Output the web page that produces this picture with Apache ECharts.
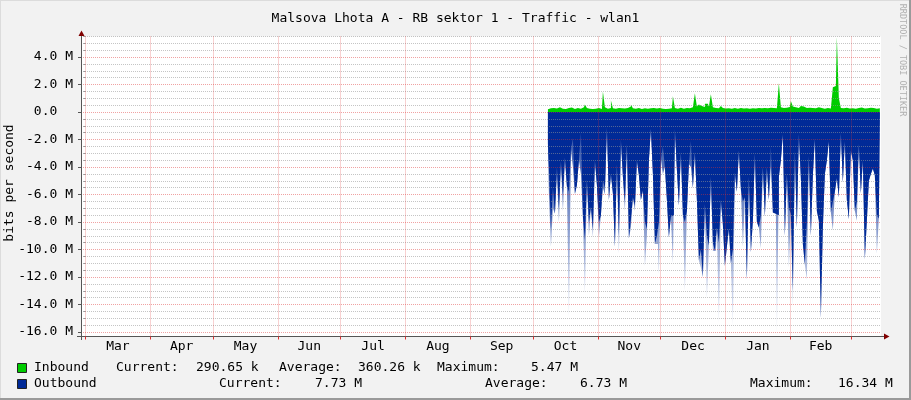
<!DOCTYPE html>
<html>
<head>
<meta charset="utf-8">
<script src="https://cdn.jsdelivr.net/npm/echarts@6/dist/echarts.min.js"></script>
<style>
html,body{margin:0;padding:0;background:#f2f2f2;}
#c{width:911px;height:400px;}
</style>
</head>
<body>
<div id="c"></div>
<script>
// ---------------- data ----------------
const titleText = 'Malsova Lhota A - RB sektor 1 - Traffic - wlan1';
const yAxisTitle = 'bits per second';
const watermark = 'RRDTOOL / TOBI OETIKER';

const monthNames = ['Mar','Apr','May','Jun','Jul','Aug','Sep','Oct','Nov','Dec','Jan','Feb'];
// days since 1 March (Feb has 29 days)
const monthStarts = [0,31,61,92,122,153,184,214,245,275,306,337,366];

// y axis (M bits/s)
const yMajorTicks = [-16,-14,-12,-10,-8,-6,-4,-2,0,2,4];
const yMin = -16.32, yMax = 5.5;

// x range in days since 1 March
const axisMinDay = -2.15, axisMaxDay = 380.35;
const dataStartDay = 221.1, dataStepDays = 0.956;

// Inbound (M bits/s)
const inbound = [
0.20,0.28,0.22,0.30,0.26,0.40,0.35,0.24,0.28,0.22,
0.30,0.25,0.33,0.22,0.27,0.30,0.24,0.28,0.35,0.55,
0.30,0.25,0.22,0.28,0.24,0.30,0.26,0.22,1.50,0.35,
0.25,0.30,0.85,0.28,0.24,0.30,0.22,0.28,0.26,0.35,
0.30,0.40,0.55,0.28,0.24,0.30,0.26,0.22,0.28,0.30,
0.24,0.28,0.22,0.30,0.26,0.35,0.30,0.24,0.28,0.22,
0.25,0.30,0.28,1.15,0.30,0.25,0.32,0.28,0.24,0.30,
0.40,0.28,0.35,0.45,1.37,0.40,0.55,0.45,0.38,0.60,
0.60,0.40,1.30,0.35,0.30,0.28,0.32,0.45,0.30,0.26,
0.28,0.32,0.25,0.30,0.28,0.24,0.30,0.33,0.26,0.28,
0.30,0.25,0.28,0.32,0.26,0.30,0.24,0.28,0.30,0.26,
0.28,0.32,0.25,0.30,0.28,0.40,2.10,0.35,0.30,0.32,
0.45,0.38,0.80,0.40,0.35,0.30,0.32,0.45,0.40,0.30,
0.28,0.32,0.30,0.26,0.28,0.35,0.40,0.30,0.25,0.28,
0.30,0.26,0.40,1.80,1.90,5.47,1.00,0.30,0.28,0.32,
0.30,0.26,0.28,0.32,0.25,0.30,0.28,0.33,0.26,0.30,
0.28,0.32,0.26,0.30,0.25,0.28,0.29
];

// Outbound depth (M bits/s), furthest (faded) extent
const outboundTip = [
2.3,6.0,9.8,7.0,7.4,4.5,8.0,3.6,7.2,3.3,
5.5,15.0,2.7,4.0,6.0,5.3,3.5,4.5,7.7,13.2,
4.9,9.0,6.9,9.1,3.5,5.3,9.1,7.5,5.5,6.0,
1.1,6.4,4.5,6.0,9.8,3.8,10.3,2.0,4.7,7.2,
2.3,9.2,8.4,6.2,7.2,3.5,4.6,6.4,5.7,11.2,
9.0,3.5,1.2,4.5,9.6,
9.6,11.8,3.4,4.5,4.0,6.4,9.1,7.6,11.0,1.2,
4.2,6.8,2.9,7.5,13.0,7.2,3.8,4.0,5.5,2.9,
6.4,10.8,11.3,12.0,6.7,13.5,9.7,4.7,10.1,10.1,
8.4,15.4,6.4,8.2,11.2,9.8,8.5,11.0,15.6,4.4,
5.8,2.8,5.6,9.8,6.2,12.2,4.7,10.2,7.9,3.0,
8.0,8.4,9.9,4.0,7.6,4.0,6.4,
4.0,7.3,7.4,16.3,4.7,3.5,1.6,9.0,4.5,11.3,
7.4,14.2,2.8,8.4,1.6,4.8,9.6,11.1,12.2,3.2,
9.0,4.6,1.9,7.2,7.9,15.0,8.4,4.5,3.5,2.1,
7.3,8.6,5.8,4.8,6.2,1.5,5.1,2.1,6.4,7.8,
2.8,3.5,7.2,7.9,2.3,5.9,3.5,10.7,7.9,5.0,
4.5,4.1,4.6,10.3,7.73
];

// Outbound depth (M bits/s), solid part
const outboundCore = [
2.3,4.0,8.5,5.5,7.4,4.0,7.0,3.6,6.0,3.3,
5.4,5.8,2.7,1.9,5.9,5.3,3.5,1.5,7.6,9.3,
4.9,8.0,6.9,8.5,3.5,5.3,8.0,7.5,5.0,5.5,
1.1,6.4,4.5,5.9,9.8,3.8,9.0,2.0,4.7,6.5,
2.3,9.2,7.8,6.2,6.8,3.5,4.6,6.4,5.7,8.0,
8.5,3.5,1.2,4.5,9.6,
9.0,8.0,3.4,2.5,4.0,6.4,9.1,7.6,7.5,1.2,
4.2,6.8,2.9,7.5,8.0,7.2,3.8,2.1,5.5,2.9,
6.4,10.8,10.0,12.0,6.7,9.0,9.7,4.7,9.5,10.1,
8.4,9.5,6.4,8.2,11.2,9.8,8.5,11.0,10.0,4.4,
5.8,2.8,5.6,6.5,6.2,12.2,4.7,10.2,7.9,3.0,
8.0,8.4,7.5,4.0,7.6,4.0,6.4,
2.5,7.3,7.4,7.5,4.7,3.5,1.6,9.0,4.5,7.0,
7.4,13.0,2.8,8.4,1.6,4.8,9.6,11.1,8.0,3.2,
9.0,4.6,1.9,7.2,7.9,15.0,8.4,4.5,3.5,2.1,
7.3,6.5,5.8,4.8,6.2,1.5,5.1,2.1,6.4,7.8,
2.8,3.5,7.2,6.5,2.3,5.9,3.5,10.7,7.9,5.0,
4.5,4.1,4.6,7.5,7.73
];

const legendLabels = ['Inbound','Outbound'];
const statNames = ['Current:','Average:','Maximum:'];
const inboundStats = ['290.65 k','360.26 k','5.47 M'];
const outboundStats = ['7.73 M','6.73 M','16.34 M'];

// ---------------- layout / style ----------------
const FONT = '"DejaVu Sans Mono", monospace';
const GREEN = '#00cc00', BLUE = '#002a97';
const MGRID = 'rgba(222,48,48,0.45)', GRID = 'rgba(150,150,150,0.55)';
const AXIS = '#555555', ARROW = '#800000';
const legendRow1 = {y:368, label:34, pos:[116,196,279,358,437,531]};
const legendRow2 = {y:384, label:34, pos:[219,315,485,580,750,838]};

const monthMids = monthNames.map((_, i) => (monthStarts[i] + monthStarts[i+1]) / 2);
const yMinorTicks = [];
for (let v = -16; v <= yMax + 1e-9; v += 0.5) { if (Math.abs(v % 2) > 1e-9) yMinorTicks.push(v); }

const xAt = i => dataStartDay + i * dataStepDays;
const inData = inbound.map((v, i) => [xAt(i), v]);
const coreData = outboundCore.map((v, i) => [xAt(i), -v]);
const tipData = outboundTip.map((v, i) => [xAt(i), -v]);

function legendGraphics(row, label, color, stats) {
  const g = [];
  g.push({type:'rect', shape:{x:17.5, y:row.y - 4.5, width:9, height:9},
          style:{fill:color, stroke:'#222', lineWidth:1}});
  g.push({type:'text', x:row.label, y:row.y, style:{text:label, font:'13px ' + FONT, fill:'#000', align:'left', verticalAlign:'middle'}});
  for (let k = 0; k < 3; k++) {
    g.push({type:'text', x:row.pos[2*k], y:row.y, style:{text:statNames[k], font:'13px ' + FONT, fill:'#000', align:'left', verticalAlign:'middle'}});
    g.push({type:'text', x:row.pos[2*k+1], y:row.y, style:{text:stats[k], font:'13px ' + FONT, fill:'#000', align:'left', verticalAlign:'middle'}});
  }
  return g;
}

const graphics = [
  // frame
  {type:'rect', shape:{x:0, y:0, width:911, height:1}, style:{fill:'#dcdcdc'}},
  {type:'rect', shape:{x:0, y:0, width:1, height:400}, style:{fill:'#dcdcdc'}},
  {type:'rect', shape:{x:909, y:0, width:2, height:400}, style:{fill:'#9a9a9a'}},
  {type:'rect', shape:{x:0, y:398, width:911, height:2}, style:{fill:'#9a9a9a'}},
  // axis extensions and arrows
  {type:'line', shape:{x1:81.5, y1:336, x2:81.5, y2:340}, style:{stroke:AXIS, lineWidth:1}, z:10},
  {type:'line', shape:{x1:77, y1:336.5, x2:81, y2:336.5}, style:{stroke:AXIS, lineWidth:1}, z:10},
  {type:'line', shape:{x1:881, y1:336.5, x2:885, y2:336.5}, style:{stroke:AXIS, lineWidth:1}, z:10},
  {type:'polygon', shape:{points:[[78.5,36],[81.5,30.5],[84.5,36]]}, style:{fill:ARROW}, z:10},
  {type:'polygon', shape:{points:[[884,333.5],[889.5,336.5],[884,339.5]]}, style:{fill:ARROW}, z:10},
  // y axis title
  {type:'text', x:10, y:183, rotation:Math.PI/2,
   style:{text:yAxisTitle, font:'13px ' + FONT, fill:'#000', align:'center', verticalAlign:'middle'}},
  // watermark
  {type:'text', x:902.5, y:60, rotation:-Math.PI/2,
   style:{text:watermark, font:'8.5px ' + FONT, fill:'#b0b0b0', align:'center', verticalAlign:'middle'}}
].concat(legendGraphics(legendRow1, legendLabels[0], GREEN, inboundStats))
 .concat(legendGraphics(legendRow2, legendLabels[1], BLUE, outboundStats));

const option = {
  animation: false,
  backgroundColor: '#f2f2f2',
  title: {
    text: titleText, left: 'center', top: 7,
    textStyle: {fontFamily: FONT, fontSize: 13, fontWeight: 'normal', color: '#000'}
  },
  grid: {left: 81, right: 30, top: 36.5, bottom: 63.5, show: true, backgroundColor: '#ffffff', borderWidth: 0, containLabel: false, outerBoundsMode: 'none'},
  xAxis: [{
    type: 'value', min: axisMinDay, max: axisMaxDay, zlevel: 1, z: 5,
    axisLine: {show: true, onZero: false, lineStyle: {color: AXIS, width: 1}},
    axisTick: {show: true, customValues: monthStarts, length: 3, lineStyle: {color: '#de3030'}},
    axisLabel: {show: true, customValues: monthMids, margin: 4,
      formatter: v => { const i = monthMids.findIndex(m => Math.abs(m - v) < 1e-6); return i >= 0 ? monthNames[i] : ''; },
      fontFamily: FONT, fontSize: 13, color: '#000'},
    splitLine: {show: true, lineStyle: {color: MGRID, width: 1, type: [1, 1]}},
    minorTick: {show: false}, minorSplitLine: {show: false}
  }],
  yAxis: [{
    type: 'value', min: yMin, max: yMax, zlevel: 1, z: 5,
    axisLine: {show: true, onZero: false, lineStyle: {color: AXIS, width: 1}},
    axisTick: {show: true, customValues: yMajorTicks, length: 3, lineStyle: {color: AXIS}},
    axisLabel: {show: true, customValues: yMajorTicks, margin: 8,
      formatter: v => Math.abs(v) < 1e-9 ? '0.0  ' : v.toFixed(1) + ' M',
      fontFamily: FONT, fontSize: 13, color: '#000'},
    splitLine: {show: true, lineStyle: {color: MGRID, width: 1, type: [1, 1]}}
  }, {
    type: 'value', min: yMin, max: yMax, zlevel: 1, z: 4, position: 'left',
    axisLine: {show: false},
    axisTick: {show: true, customValues: yMinorTicks, length: 2, lineStyle: {color: '#999'}},
    axisLabel: {show: false},
    splitLine: {show: true, lineStyle: {color: GRID, width: 1, type: [1, 1]}}
  }],
  series: [
    {name: 'Inbound', type: 'line', data: inData, showSymbol: false, symbol: 'none', step: 'middle',
     lineStyle: {width: 0}, areaStyle: {color: GREEN, opacity: 1}, z: 2},
    {name: 'OutboundTip', type: 'line', data: tipData, showSymbol: false, symbol: 'none', step: 'middle',
     lineStyle: {width: 0},
     areaStyle: {opacity: 1, color: {type: 'linear', x: 0, y: 0, x2: 0, y2: 1,
       colorStops: [{offset: 0, color: 'rgba(0,42,151,0.85)'}, {offset: 0.35, color: 'rgba(0,42,151,0.6)'}, {offset: 1, color: 'rgba(0,42,151,0.06)'}]}}, z: 2},
    {name: 'OutboundCore', type: 'line', data: coreData, showSymbol: false, symbol: 'none', step: 'middle',
     lineStyle: {width: 0}, areaStyle: {color: BLUE, opacity: 1}, z: 3}
  ],
  graphic: graphics
};

const chart = echarts.init(document.getElementById('c'), null, {renderer: 'canvas', width: 911, height: 400});
chart.setOption(option);
</script>
</body>
</html>
